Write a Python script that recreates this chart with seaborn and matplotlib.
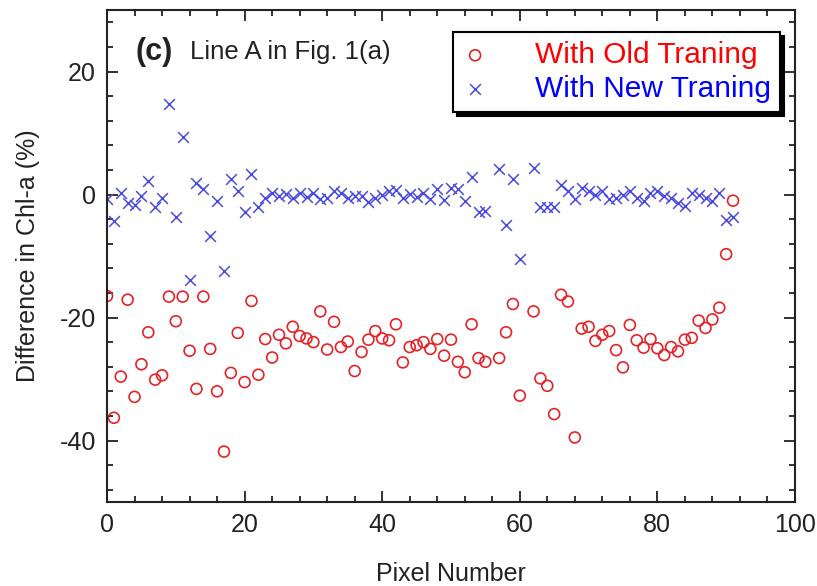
import numpy as np
import pandas as pd
import matplotlib
matplotlib.use("Agg")
import matplotlib.pyplot as plt
import seaborn as sns
from matplotlib.ticker import MultipleLocator

pixel = list(range(92))
old_training = [
    -16.5, -36.3, -29.6, -17.1, -32.9, -27.6, -22.4, -30.1, -29.4, -16.6,
    -20.6, -16.6, -25.4, -31.6, -16.6, -25.1, -32.0, -41.8, -29.0, -22.5,
    -30.5, -17.3, -29.3, -23.5, -26.5, -22.8, -24.2, -21.5, -23.0, -23.4,
    -24.0, -19.0, -25.2, -20.7, -24.8, -23.9, -28.7, -25.6, -23.6, -22.2,
    -23.4, -23.7, -21.1, -27.3, -24.8, -24.5, -24.0, -25.1, -23.5, -26.2,
    -23.6, -27.2, -28.9, -21.1, -26.6, -27.2, np.nan, -26.6, -22.4, -17.8,
    -32.7, np.nan, -19.0, -29.9, -31.1, -35.7, -16.3, -17.4, -39.5, -21.8,
    -21.5, -23.8, -22.8, -22.2, -25.3, -28.1, -21.2, -23.7, -24.9, -23.5,
    -25.0, -26.1, -24.8, -25.5, -23.6, -23.3, -20.5, -21.7, -20.3, -18.4,
    -9.7, -1.0,
]
new_training = [
    -0.7, -4.3, 0.2, -1.4, -1.7, -0.2, 2.2, -2.1, -0.5, 14.7,
    -3.7, 9.4, -13.9, 1.8, 0.9, -6.8, -1.0, -12.4, 2.5, 0.6,
    -2.9, 3.3, -2.0, -0.6, 0.2, -0.3, 0.1, -0.6, 0.3, -0.4,
    0.2, -0.8, -0.5, 0.6, 0.3, -0.6, -0.2, -0.3, -1.2, -0.6,
    0.0, 0.5, 0.8, -0.5, 0.1, -0.4, 0.3, -0.7, 0.9, -0.9,
    1.0, 0.9, -1.1, 2.8, -2.8, -2.6, np.nan, 4.2, -5.0, 2.5,
    -10.5, np.nan, 4.3, -2.1, -2.1, -2.1, 1.6, 0.6, -0.8, 1.1,
    0.5, 0.0, 0.6, -0.7, -0.6, -0.1, 0.5, -0.6, -1.1, 0.2,
    0.5, -0.3, -0.6, -1.4, -1.8, 0.2, 0.0, -0.6, -1.1, 0.2,
    -4.1, -3.6,
]
x_ticks = [0, 20, 40, 60, 80, 100]
y_ticks = [-40, -20, 0, 20]
label_old = "With Old Traning"
label_new = "With New Traning"

df = pd.DataFrame({"pixel": pixel, "old": old_training, "new": new_training})

sns.set_style("ticks")
plt.rcParams["font.family"] = ["Liberation Sans", "DejaVu Sans"]
plt.rcParams["axes.unicode_minus"] = False

fig = plt.figure(figsize=(8.17, 5.86), dpi=100)
ax = fig.add_axes([0.131, 0.1433, 0.842, 0.8396])

red = "#e62228"
blue = "#4a4ae0"
sns.scatterplot(data=df, x="pixel", y="old", ax=ax, marker="o", s=62,
                facecolors="none", edgecolor=red, linewidth=1.2,
                label=label_old)
sns.scatterplot(data=df, x="pixel", y="new", ax=ax, marker="x", s=60,
                color=blue, linewidth=1.1, label=label_new)

ax.set_xlim(0, 100)
ax.set_ylim(-50, 30)
ax.set_xticks(x_ticks)
ax.set_yticks(y_ticks)
ax.xaxis.set_minor_locator(MultipleLocator(4))
ax.yaxis.set_minor_locator(MultipleLocator(4))
ax.tick_params(which="both", direction="in", top=True, right=True,
               width=1.3, colors="#222222", labelcolor="#222222")
ax.tick_params(which="major", length=8, labelsize=18, pad=8)
ax.tick_params(which="minor", length=4)
for sp in ax.spines.values():
    sp.set_visible(True)
    sp.set_linewidth(1.5)
    sp.set_color("#222222")

ax.set_xlabel("Pixel Number", fontsize=18, labelpad=18, color="#222222")
ax.set_ylabel("Difference in Chl-a (%)", fontsize=18, labelpad=14, color="#222222")

ax.text(0.041, 0.915, "(c)", transform=ax.transAxes, fontsize=22,
        fontweight="bold", ha="left", va="center", color="#222222")
ax.text(0.121, 0.915, "Line A in Fig. 1(a)", transform=ax.transAxes,
        fontsize=18.5, ha="left", va="center", color="#222222")

leg = ax.legend(loc="upper right", bbox_to_anchor=(0.978, 0.955),
                borderaxespad=0, frameon=True, fancybox=False,
                shadow={"color": "black", "alpha": 1, "ox": 3, "oy": -3},
                fontsize=21.5, handletextpad=1.55, borderpad=0.3,
                labelspacing=0.2, markerscale=1.0, handlelength=0.9)
leg.get_frame().set_edgecolor("black")
leg.get_frame().set_linewidth(1.5)
leg.get_frame().set_alpha(1)
for t, c in zip(leg.get_texts(), ["#ff0000", "#0000ff"]):
    t.set_color(c)

fig.savefig("out.png", dpi=100)
